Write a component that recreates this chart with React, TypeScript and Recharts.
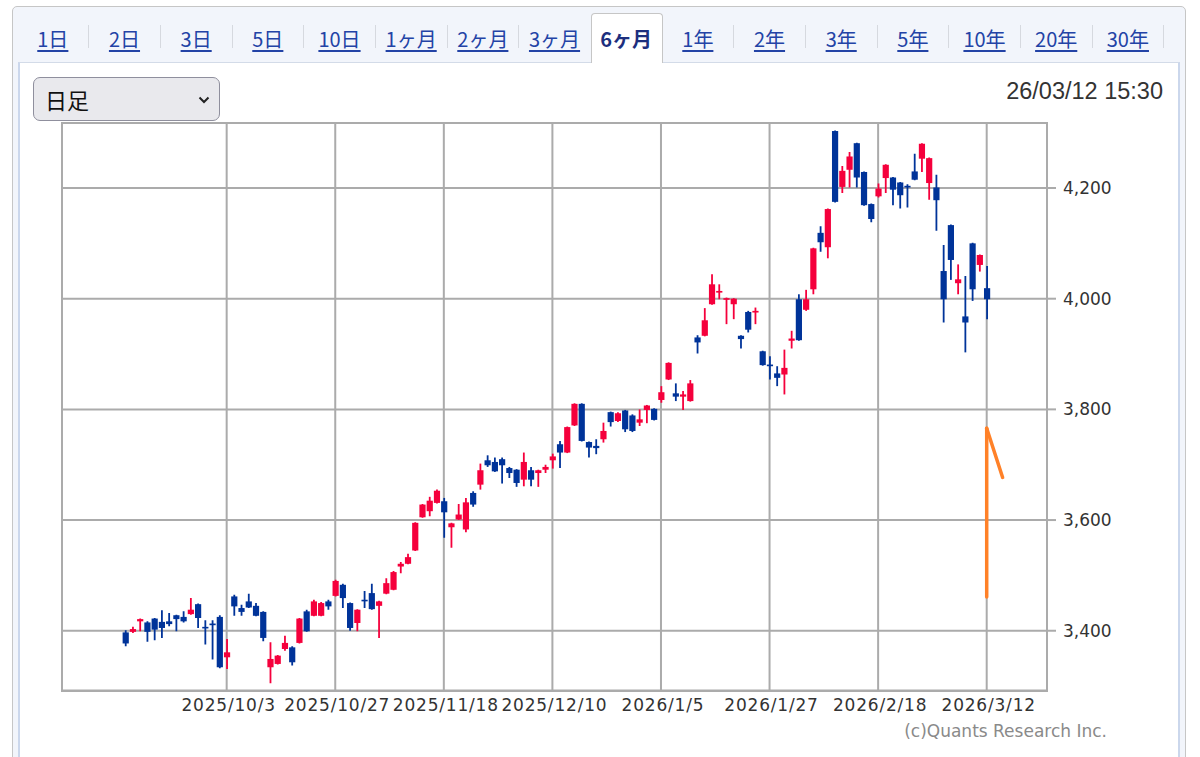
import { Bar, CartesianGrid, ComposedChart, ReferenceLine, XAxis, YAxis } from 'recharts';

// daily candles, oldest first (2025/9 .. 2026/3/12)
const opens = [
  3397, 3398, 3417, 3415, 3422, 3416, 3417, 3428, 3425, 3430, 3448, 3407, 3413, 3425, 3352, 3462, 3441, 3453, 3445, 3434,
  3334, 3340, 3367, 3370, 3378, 3435, 3427, 3427, 3453, 3463, 3483, 3450, 3414, 3456, 3468, 3445, 3467, 3474, 3516, 3521,
  3545, 3605, 3616, 3631, 3634, 3587, 3601, 3583, 3649, 3664, 3708, 3705, 3710, 3694, 3691, 3673, 3690, 3685, 3691, 3708,
  3737, 3722, 3771, 3810, 3741, 3734, 3746, 3795, 3779, 3798, 3789, 3776, 3799, 3801, 3817, 3854, 3829, 3823, 3815, 3930,
  3933, 3990, 4011, 3998, 3990, 3933, 3976, 3975, 3905, 3881, 3865, 3863, 3924, 3999, 3980, 4017, 4119, 4093, 4303, 4202,
  4233, 4281, 4229, 4171, 4185, 4218, 4219, 4210, 4204, 4230, 4253, 4209, 4201, 4050, 4133, 4028, 3968, 4100, 4061, 4019,
];
const highs = [
  3401, 3407, 3422, 3417, 3423, 3437, 3432, 3429, 3435, 3459, 3449, 3419, 3419, 3428, 3385, 3465, 3447, 3467, 3450, 3435,
  3379, 3356, 3391, 3372, 3423, 3438, 3456, 3452, 3456, 3492, 3485, 3451, 3439, 3472, 3485, 3454, 3495, 3508, 3524, 3539,
  3596, 3629, 3642, 3655, 3640, 3595, 3629, 3640, 3652, 3702, 3717, 3713, 3713, 3696, 3692, 3722, 3696, 3691, 3700, 3720,
  3743, 3769, 3811, 3811, 3742, 3746, 3776, 3796, 3795, 3799, 3791, 3800, 3808, 3802, 3842, 3885, 3847, 3833, 3853, 3934,
  3983, 4044, 4026, 4002, 4001, 3934, 3978, 3984, 3906, 3896, 3878, 3908, 3942, 4008, 4016, 4092, 4131, 4163, 4304, 4240,
  4265, 4282, 4230, 4172, 4208, 4243, 4220, 4211, 4207, 4262, 4281, 4255, 4224, 4097, 4134, 4062, 4041, 4101, 4080, 4059,
];
const lows = [
  3372, 3396, 3399, 3380, 3383, 3387, 3408, 3399, 3415, 3429, 3405, 3375, 3348, 3332, 3331, 3427, 3427, 3441, 3426, 3381,
  3305, 3339, 3364, 3337, 3377, 3398, 3426, 3426, 3438, 3462, 3441, 3400, 3399, 3441, 3438, 3387, 3466, 3473, 3504, 3520,
  3544, 3604, 3607, 3630, 3568, 3550, 3600, 3578, 3624, 3655, 3696, 3687, 3666, 3676, 3660, 3661, 3661, 3660, 3685, 3693,
  3694, 3721, 3770, 3742, 3713, 3719, 3740, 3769, 3777, 3759, 3759, 3770, 3775, 3780, 3812, 3853, 3815, 3799, 3814, 3901,
  3932, 3989, 3999, 3954, 3963, 3910, 3939, 3954, 3879, 3854, 3842, 3827, 3910, 3924, 3978, 4008, 4085, 4073, 4174, 4191,
  4201, 4201, 4168, 4138, 4183, 4191, 4169, 4163, 4165, 4214, 4229, 4179, 4123, 3957, 4034, 4008, 3903, 3996, 4049, 3963,
];
const closes = [
  3377, 3403, 3421, 3398, 3402, 3405, 3412, 3421, 3417, 3438, 3423, 3405, 3410, 3334, 3361, 3444, 3434, 3442, 3427, 3387,
  3349, 3355, 3378, 3343, 3422, 3399, 3453, 3450, 3444, 3490, 3459, 3405, 3438, 3454, 3439, 3453, 3486, 3506, 3521, 3533,
  3595, 3628, 3635, 3653, 3614, 3594, 3610, 3632, 3628, 3690, 3699, 3688, 3699, 3685, 3667, 3705, 3673, 3690, 3696, 3715,
  3722, 3768, 3810, 3743, 3731, 3730, 3761, 3777, 3793, 3764, 3761, 3782, 3807, 3781, 3831, 3884, 3823, 3827, 3847, 3921,
  3961, 4026, 4014, 4001, 4000, 3927, 3944, 3978, 3880, 3878, 3857, 3875, 3928, 3925, 3999, 4091, 4102, 4162, 4175, 4231,
  4257, 4219, 4169, 4144, 4199, 4242, 4197, 4187, 4201, 4215, 4280, 4254, 4178, 3999, 4070, 4035, 3957, 4017, 4079, 3999,
];

// x labels sit on every 15th session
const tickIdx = [14, 29, 44, 59, 74, 89, 104, 119];
const tickLabels = [
  '2025/10/3', '2025/10/27', '2025/11/18', '2025/12/10', '2026/1/5', '2026/1/27', '2026/2/18', '2026/3/12',
];
const priceTicks = [3400, 3600, 3800, 4000, 4200];

// hand-drawn orange marker (session index, price)
const arrowIdx = [119, 119, 121.2];
const arrowPrice = [3461, 3766, 3677];

const tabs = ['1日', '2日', '3日', '5日', '10日', '1ヶ月', '2ヶ月', '3ヶ月', '6ヶ月', '1年', '2年', '3年', '5年', '10年', '20年', '30年'];
const ACTIVE_TAB = '6ヶ月';

const UP = '#f5003c';
const DOWN = '#003399';
const GRID = '#ababab';
const AXIS_FONT = '"DejaVu Sans", sans-serif';

const rows = opens.map((o, i) => ({ i, o, h: highs[i], l: lows[i], c: closes[i] }));

/** wick + body, measured inside the [low, high] bar the chart hands us */
function Candle(props: any) {
  const { x, y, width, height, payload } = props;
  if (payload == null || height == null) return null;
  const { o, h, l, c } = payload;
  const cx = x + width / 2;
  const span = h - l || 1;
  const py = (v: number) => y + ((h - v) / span) * height;
  const color = c >= o ? UP : DOWN;
  const top = py(Math.max(o, c));
  const bodyH = Math.max(py(Math.min(o, c)) - top, 1.6);
  return (
    <g>
      <line x1={cx} x2={cx} y1={y} y2={y + height} stroke={color} strokeWidth={1.8} />
      <rect x={cx - 3.1} y={top} width={6.2} height={bodyH} fill={color} />
    </g>
  );
}

function XTick(props: any) {
  const { x, y, index } = props;
  return (
    <text x={x + 2} y={y + 20.5} textAnchor="middle" fill="#333" fontSize={17} fontFamily={AXIS_FONT} letterSpacing={0.8}>
      {tickLabels[index]}
    </text>
  );
}

function YTick(props: any) {
  const { x, y, payload } = props;
  return (
    <text x={x} y={y + 6} textAnchor="start" fill="#333" fontSize={17} fontFamily={AXIS_FONT}>
      {Number(payload.value).toLocaleString('en-US')}
    </text>
  );
}

function TabBar() {
  const cellW = 71.67;
  return (
    <>
      {tabs.map((t, k) => {
        const left = 17 + k * cellW;
        const active = t === ACTIVE_TAB;
        return (
          <div key={t}>
            {active && (
              <div
                style={{
                  position: 'absolute',
                  left: left + 0.5,
                  top: 13,
                  width: cellW,
                  height: 50,
                  background: '#fff',
                  border: '1px solid #c6c6c6',
                  borderBottom: 'none',
                  borderRadius: '4px 4px 0 0',
                  boxSizing: 'border-box',
                  zIndex: 2,
                }}
              />
            )}
            <div
              style={{
                position: 'absolute',
                left,
                top: 18,
                width: cellW,
                height: 40,
                display: 'flex',
                alignItems: 'center',
                justifyContent: 'center',
                fontFamily: '"Noto Sans CJK JP", sans-serif',
                fontSize: 20,
                fontWeight: active ? 700 : 400,
                color: active ? '#1d2f7e' : '#2343a6',
                textDecoration: active ? 'none' : 'underline',
                textUnderlineOffset: 3,
                zIndex: 3,
              }}
            >
              {t}
            </div>
            {!active && tabs[k + 1] !== ACTIVE_TAB && (
              <div style={{ position: 'absolute', left: left + cellW - 0.5, top: 25, width: 1, height: 23, background: '#d6d9df' }} />
            )}
          </div>
        );
      })}
    </>
  );
}

export default function App() {
  return (
    <div style={{ position: 'relative', width: 1200, height: 757, overflow: 'hidden', background: '#fff' }}>
      <style>{'body{margin:0}'}</style>
      {/* outer tab box */}
      <div
        style={{
          position: 'absolute',
          left: 12,
          top: 6,
          width: 1174,
          height: 800,
          border: '1px solid #c6c6c6',
          borderRadius: 5,
          background: '#f2f5fb',
          boxSizing: 'border-box',
        }}
      />
      {/* white chart panel */}
      <div
        style={{
          position: 'absolute',
          left: 18,
          top: 62,
          width: 1162,
          height: 760,
          background: '#fff',
          border: '1px solid #d3dbe8',
          borderLeft: '2px solid #cbd7ec',
          borderRight: '2px solid #cbd7ec',
          boxSizing: 'border-box',
          zIndex: 1,
        }}
      />
      <TabBar />

      {/* period dropdown */}
      <div
        style={{
          position: 'absolute',
          left: 33,
          top: 77,
          width: 187,
          height: 44,
          boxSizing: 'border-box',
          border: '1px solid #8f8f9d',
          borderRadius: 7,
          background: '#e9e9ed',
          zIndex: 3,
          fontFamily: '"Noto Sans CJK JP", sans-serif',
          fontSize: 22,
          color: '#111',
          display: 'flex',
          alignItems: 'center',
          paddingLeft: 11,
        }}
      >
        日足
        <svg width={12} height={8} style={{ position: 'absolute', left: 164, top: 18 }}>
          <polyline points="1.5,1.5 6,6 10.5,1.5" fill="none" stroke="#222" strokeWidth={2} />
        </svg>
      </div>

      <div
        style={{
          position: 'absolute',
          right: 37,
          top: 80,
          fontFamily: '"Liberation Sans", Arial, sans-serif',
          fontSize: 23.5,
          lineHeight: 1,
          color: '#333',
          zIndex: 3,
        }}
      >
        26/03/12 15:30
      </div>

      <div style={{ position: 'absolute', left: 0, top: 0, zIndex: 3 }}>
        <ComposedChart width={1200} height={757} data={rows} margin={{ top: 123, right: 73, bottom: 36.5, left: 62 }}>
          <CartesianGrid stroke={GRID} strokeWidth={2} />
          <XAxis
            dataKey="i"
            type="number"
            domain={[-8.75, 127.33]}
            allowDataOverflow
            ticks={tickIdx}
            interval={0}
            height={30}
            tickSize={0}
            tickMargin={0}
            tickLine={false}
            axisLine={false}
            tick={(p: any) => <XTick {...p} />}
          />
          <YAxis
            orientation="right"
            type="number"
            domain={[3292, 4317.5]}
            allowDataOverflow
            ticks={priceTicks}
            interval={0}
            width={80}
            tickSize={9}
            tickMargin={7}
            axisLine={false}
            tickLine={{ stroke: GRID, strokeWidth: 2 }}
            tick={(p: any) => <YTick {...p} />}
          />
          <Bar dataKey={(d: any) => [d.l, d.h]} barSize={6} shape={Candle} isAnimationActive={false} />
          <ReferenceLine
            segment={[
              { x: arrowIdx[0], y: arrowPrice[0] },
              { x: arrowIdx[1], y: arrowPrice[1] },
            ]}
            stroke="#ff8128"
            strokeWidth={3.5}
            strokeLinecap="round"
          />
          <ReferenceLine
            segment={[
              { x: arrowIdx[1], y: arrowPrice[1] },
              { x: arrowIdx[2], y: arrowPrice[2] },
            ]}
            stroke="#ff8128"
            strokeWidth={3.5}
            strokeLinecap="round"
          />
        </ComposedChart>
      </div>

      {/* plot frame */}
      <div
        style={{
          position: 'absolute',
          left: 61,
          top: 122,
          width: 987,
          height: 569.5,
          border: `2px solid ${GRID}`,
          boxSizing: 'border-box',
          pointerEvents: 'none',
          zIndex: 4,
        }}
      />

      <div
        style={{
          position: 'absolute',
          right: 93,
          top: 723,
          fontFamily: AXIS_FONT,
          fontSize: 17,
          lineHeight: 1,
          color: '#8a8a8a',
          zIndex: 3,
        }}
      >
        (c)Quants Research Inc.
      </div>
    </div>
  );
}
